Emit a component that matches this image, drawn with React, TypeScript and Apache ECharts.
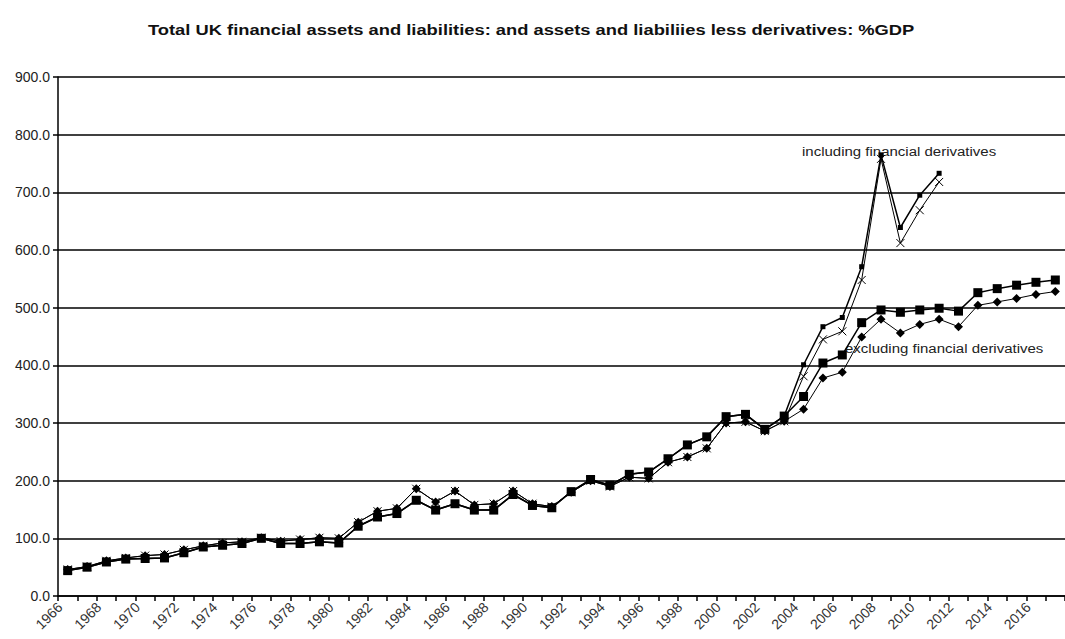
import React, { useEffect, useRef } from "react";
import * as echarts from "echarts";

const years = [
  "1966","1967","1968","1969","1970","1971","1972","1973","1974","1975",
  "1976","1977","1978","1979","1980","1981","1982","1983","1984","1985",
  "1986","1987","1988","1989","1990","1991","1992","1993","1994","1995",
  "1996","1997","1998","1999","2000","2001","2002","2003","2004","2005",
  "2006","2007","2008","2009","2010","2011","2012","2013","2014","2015",
  "2016","2017",
];

// assets excluding financial derivatives (squares)
const assetsExcl = [
  44, 50, 59, 64, 65, 66, 75, 85, 88, 91,
  100, 91, 91, 94, 92, 121, 137, 143, 166, 149,
  160, 149, 149, 176, 157, 153, 181, 202, 192, 211,
  215, 238, 262, 276, 311, 315, 289, 312, 346, 404,
  418, 474, 496, 492, 496, 499, 494, 526, 533, 539,
  544, 548,
];

// liabilities excluding financial derivatives (diamonds)
const liabExcl = [
  46, 51, 61, 66, 70, 72, 80, 87, 92, 94,
  101, 95, 98, 101, 100, 128, 147, 152, 186, 163,
  182, 158, 160, 182, 160, 155, 180, 200, 190, 206,
  204, 232, 241, 256, 300, 302, 286, 303, 324, 378,
  388, 449, 480, 456, 471, 480, 467, 504, 510, 516,
  523, 528,
];

// assets including financial derivatives (small squares)
const assetsIncl = [
  44, 50, 59, 64, 65, 66, 75, 85, 88, 91,
  100, 91, 91, 94, 92, 121, 137, 143, 166, 149,
  160, 149, 149, 176, 157, 153, 181, 202, 192, 211,
  215, 238, 262, 276, 311, 315, 289, 312, 401, 467,
  483, 571, 765, 639, 695, 733, null, null, null, null,
  null, null,
];

// liabilities including financial derivatives (crosses)
const liabIncl = [
  46, 51, 61, 66, 70, 72, 80, 87, 92, 94,
  101, 95, 98, 101, 100, 128, 147, 152, 186, 163,
  182, 158, 160, 182, 160, 155, 180, 200, 190, 206,
  204, 232, 241, 256, 300, 302, 286, 303, 381, 445,
  459, 548, 758, 612, 669, 718, null, null, null, null,
  null, null,
];

const titleText =
  "Total UK financial assets and liabilities: and assets and liabiliies less derivatives: %GDP";
const labelIncl = "including financial derivatives";
const labelExcl = "excluding financial derivatives";

const FONT = "Liberation Sans, Arial, sans-serif";

export default function App() {
  const ref = useRef<HTMLDivElement>(null);

  useEffect(() => {
    if (!ref.current) return;
    const chart = echarts.init(ref.current, null, { renderer: "svg" });
    const crossPath = "path://M0,0L10,10M10,0L0,10";
    chart.setOption({
      animation: false,
      backgroundColor: "#ffffff",
      grid: { left: 58, right: -7, top: 77, bottom: 43, containLabel: false },
      xAxis: {
        type: "category",
        data: years,
        boundaryGap: true,
        axisLine: { show: true, lineStyle: { color: "#000", width: 1.5 } },
        axisTick: { show: true, interval: 0, length: 5, lineStyle: { color: "#000", width: 1.5 } },
        axisLabel: {
          interval: 1,
          rotate: 45,
          margin: 1,
          formatter: (v: string) => "{a|" + v + "}",
          rich: {
            a: {
              fontFamily: FONT,
              fontSize: 14,
              color: "#333",
              padding: [0, 11, 0, 0],
            },
          },
        },
        splitLine: { show: false },
      },
      yAxis: {
        type: "value",
        min: 0,
        max: 900,
        interval: 100,
        axisLine: { show: true, lineStyle: { color: "#000", width: 1.5 } },
        axisTick: { show: true, length: 5, lineStyle: { color: "#000", width: 1.5 } },
        axisLabel: {
          fontFamily: FONT,
          fontSize: 14,
          color: "#222",
          margin: 8,
          formatter: (v: number) => v.toFixed(1),
        },
        splitLine: { show: true, lineStyle: { color: "#000", width: 1.5 } },
      },
      series: [
        {
          name: "Assets excl. derivatives",
          type: "line",
          data: assetsExcl,
          symbol: "rect",
          symbolSize: 9,
          itemStyle: { color: "#000" },
          lineStyle: { color: "#000", width: 1.5 },
        },
        {
          name: "Liabilities excl. derivatives",
          type: "line",
          data: liabExcl,
          symbol: "diamond",
          symbolSize: 9,
          itemStyle: { color: "#000" },
          lineStyle: { color: "#000", width: 1 },
        },
        {
          name: "Assets incl. derivatives",
          type: "line",
          data: assetsIncl,
          symbol: "rect",
          symbolSize: 5,
          itemStyle: { color: "#000" },
          lineStyle: { color: "#000", width: 1.5 },
        },
        {
          name: "Liabilities incl. derivatives",
          type: "line",
          data: liabIncl,
          symbol: crossPath,
          symbolSize: 8,
          itemStyle: { color: "transparent", borderColor: "#000", borderWidth: 1 },
          lineStyle: { color: "#000", width: 1 },
        },
      ],
      graphic: [
        {
          type: "text",
          x: 148,
          y: 30,
          scaleX: 1.31,
          style: {
            text: titleText,
            fontFamily: FONT,
            fontSize: 14,
            fontWeight: "bold",
            fill: "#111",
            verticalAlign: "middle",
            align: "left",
          },
        },
        {
          type: "text",
          x: 802,
          y: 152,
          scaleX: 1.25,
          style: {
            text: labelIncl,
            fontFamily: FONT,
            fontSize: 12,
            fill: "#222",
            verticalAlign: "middle",
            align: "left",
          },
        },
        {
          type: "text",
          x: 845,
          y: 349,
          scaleX: 1.25,
          style: {
            text: labelExcl,
            fontFamily: FONT,
            fontSize: 12,
            fill: "#222",
            verticalAlign: "middle",
            align: "left",
          },
        },
      ],
    });
    return () => chart.dispose();
  }, []);

  return (
    <div
      ref={ref}
      style={{ position: "absolute", left: 0, top: 0, width: 1065, height: 639 }}
    />
  );
}
